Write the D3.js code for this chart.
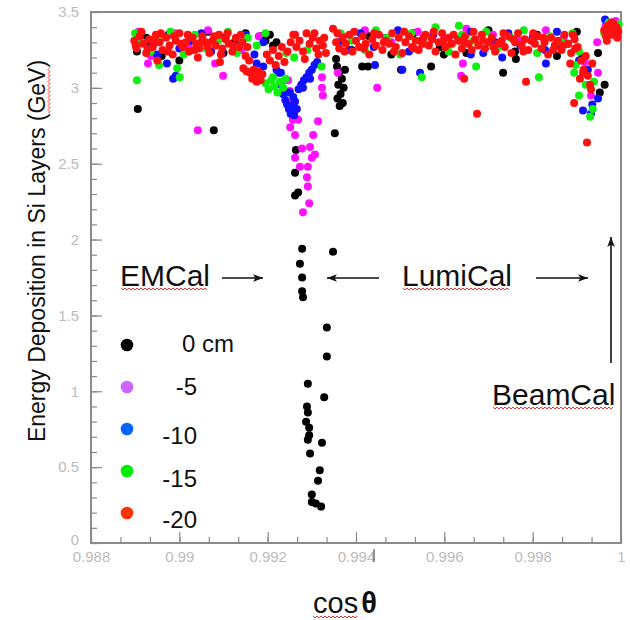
<!DOCTYPE html>
<html>
<head>
<meta charset="utf-8">
<script src="https://cdn.jsdelivr.net/npm/d3@7"></script>
<style>
  body { margin: 0; background: #fff; }
  svg { display: block; font-family: Arial, "Liberation Sans", sans-serif; }
</style>
</head>
<body>
<svg id="chart"></svg>
<script>
// ---- data (cos theta, energy in GeV) ----
const seriesNames = ['0 cm', '-5', '-10', '-15', '-20'];

const xTicks = [0.988, 0.99, 0.992, 0.994, 0.996, 0.998, 1];
const xTickLabels = ['0.988', '0.99', '0.992', '0.994', '0.996', '0.998', '1'];
const yTicks = [0, 0.5, 1, 1.5, 2, 2.5, 3, 3.5];
const yTickLabels = ['0', '0.5', '1', '1.5', '2', '2.5', '3', '3.5'];

const annotations = ['EMCal', 'LumiCal', 'BeamCal'];

const cm0 = [
  [0.98904,3.24],[0.98925,3.33],[0.98960,3.21],[0.99000,3.18],[0.99040,3.28],[0.99065,3.37],
  [0.99100,3.23],[0.99125,3.30],[0.99150,3.36],[0.98906,2.86],[0.99078,2.72],
  [0.99185,3.34],[0.99195,3.31],[0.99205,3.35],[0.99212,3.28],[0.99220,3.30],
  [0.99264,2.59],[0.99262,2.44],[0.99262,2.29],[0.99269,2.31],
  [0.99278,1.94],[0.99348,1.92],[0.99273,1.84],[0.99278,1.75],[0.99278,1.66],[0.99280,1.62],
  [0.99334,1.42],[0.99334,1.23],[0.99291,1.05],[0.99328,0.96],[0.99289,0.90],[0.99291,0.86],
  [0.99287,0.80],[0.99294,0.76],[0.99294,0.71],[0.99291,0.68],[0.99323,0.66],[0.99296,0.59],
  [0.99318,0.48],[0.99314,0.41],[0.99300,0.32],[0.99300,0.27],[0.99309,0.26],[0.99321,0.24],
  [0.99357,3.14],[0.99362,3.10],[0.99368,3.06],[0.99360,3.02],[0.99372,3.00],[0.99365,2.96],
  [0.99358,2.93],[0.99370,2.90],[0.99363,2.88],[0.99375,3.12],[0.99355,3.19],[0.99352,2.70],
  [0.99390,3.25],[0.99430,3.34],[0.99480,3.22],[0.99530,3.36],[0.99590,3.27],[0.99650,3.23],
  [0.99700,3.38],[0.99760,3.24],[0.99810,3.35],[0.99860,3.28],[0.99900,3.37],
  [0.99414,3.14],[0.99427,3.14],[0.99502,3.12],[0.99570,3.14],[0.99599,3.22],[0.99733,3.10],
  [0.99762,3.19],[0.99855,3.21],[0.99912,3.20],[0.99952,2.97],[0.99963,3.02],[0.99948,3.23],
  [0.99982,3.43],[0.99970,3.37]
];

const cm5 = [
  [0.98908,3.37],[0.98945,3.30],[0.98990,3.36],[0.99020,3.28],[0.99065,3.38],[0.99105,3.33],
  [0.99140,3.25],[0.99180,3.34],
  [0.98929,3.16],[0.99042,2.72],[0.99099,3.08],[0.99081,3.16],[0.98936,3.21],
  [0.99257,2.79],[0.99269,2.79],[0.99251,2.74],[0.99262,2.69],[0.99314,2.78],[0.99303,2.69],
  [0.99296,2.61],[0.99278,2.60],[0.99262,2.54],[0.99300,2.54],[0.99307,2.56],[0.99273,2.48],
  [0.99291,2.48],[0.99289,2.41],[0.99291,2.35],[0.99294,2.24],[0.99280,2.18],
  [0.99246,3.05],[0.99250,2.98],[0.99255,2.90],
  [0.99323,3.07],[0.99323,3.00],[0.99325,2.95],[0.99448,3.00],[0.99359,3.10],
  [0.99370,3.34],[0.99420,3.38],[0.99480,3.30],[0.99540,3.37],[0.99600,3.32],[0.99650,3.39],
  [0.99710,3.35],[0.99770,3.31],[0.99830,3.38],[0.99870,3.33],
  [0.99638,3.08],[0.99642,3.16],[0.99932,2.95],[0.99948,3.10],[0.99918,3.17],[0.99946,3.30],
  [0.99965,3.41],[0.99988,3.44]
];

const cm10 = [
  [0.98905,3.34],[0.98928,3.28],[0.98950,3.22],[0.98975,3.35],[0.99000,3.26],[0.99025,3.31],
  [0.99050,3.36],[0.99072,3.24],[0.99098,3.33],[0.99125,3.27],[0.99150,3.35],[0.99170,3.22],
  [0.99190,3.30],
  [0.98986,3.06],[0.98992,3.08],[0.98972,3.16],[0.99097,3.23],
  [0.99175,3.16],[0.99190,3.14],[0.99220,3.12],[0.99230,3.10],
  [0.99225,3.10],[0.99230,3.02],[0.99235,2.96],[0.99240,2.92],[0.99244,2.89],[0.99248,2.86],
  [0.99252,2.83],[0.99256,2.88],[0.99260,2.82],[0.99262,2.91],[0.99258,2.94],[0.99266,2.86],
  [0.99250,2.97],
  [0.99270,2.99],[0.99276,3.02],[0.99282,3.05],[0.99288,3.07],[0.99294,3.10],[0.99300,3.12],
  [0.99306,3.15],[0.99312,3.17],[0.99280,3.00],[0.99296,3.06],
  [0.99360,3.30],[0.99385,3.25],[0.99410,3.36],[0.99440,3.27],[0.99468,3.33],[0.99495,3.38],
  [0.99520,3.24],[0.99548,3.31],[0.99575,3.35],[0.99605,3.27],[0.99632,3.32],[0.99660,3.37],
  [0.99688,3.23],[0.99715,3.30],[0.99745,3.36],[0.99772,3.28],[0.99800,3.33],[0.99828,3.25],
  [0.99855,3.37],[0.99880,3.29],
  [0.99443,3.15],[0.99505,3.12],[0.99545,3.10],[0.99731,3.20],[0.99830,3.16],[0.99660,3.22],
  [0.99914,2.85],[0.99932,2.83],[0.99948,2.93],[0.99925,3.12],[0.99935,2.89],[0.99905,3.18],
  [0.99964,3.45],[0.99975,3.40],[0.99990,3.36]
];

const cm15 = [
  [0.98900,3.36],[0.98915,3.30],[0.98935,3.24],[0.98958,3.33],[0.98980,3.37],[0.99010,3.22],
  [0.99035,3.35],[0.99060,3.26],[0.99088,3.31],[0.99110,3.37],[0.99130,3.23],[0.99155,3.33],
  [0.99175,3.28],[0.99195,3.36],
  [0.98904,3.05],[0.99001,3.07],[0.98954,3.15],[0.98995,3.13],
  [0.99195,3.03],[0.99202,2.99],[0.99208,3.05],[0.99215,3.01],[0.99222,2.97],[0.99228,3.04],
  [0.99235,3.00],[0.99212,3.07],[0.99240,3.06],
  [0.99242,3.23],[0.99260,3.20],[0.99290,3.25],[0.99322,3.14],
  [0.99365,3.36],[0.99390,3.31],[0.99420,3.25],[0.99445,3.38],[0.99470,3.33],[0.99500,3.22],
  [0.99525,3.36],[0.99555,3.29],[0.99580,3.40],[0.99610,3.24],[0.99640,3.35],[0.99665,3.31],
  [0.99695,3.37],[0.99720,3.26],[0.99750,3.33],[0.99780,3.38],[0.99810,3.23],[0.99840,3.34],
  [0.99865,3.30],[0.99890,3.36],[0.99905,3.24],
  [0.99633,3.41],[0.99549,3.07],[0.99814,3.07],[0.99672,3.14],
  [0.99905,2.95],[0.99930,2.81],[0.99939,3.04],[0.99894,3.10],[0.99897,3.15],[0.99936,2.86],
  [0.99920,3.02],
  [0.99962,3.36],[0.99972,3.43],[0.99985,3.39],[0.99995,3.42]
];

const cm20 = [
  [0.98898,3.31],[0.98903,3.26],[0.98910,3.34],[0.98918,3.29],[0.98925,3.23],[0.98932,3.32],
  [0.98940,3.27],[0.98947,3.35],[0.98955,3.30],[0.98962,3.25],[0.98970,3.33],[0.98978,3.28],
  [0.98985,3.22],[0.98992,3.31],[0.99000,3.36],[0.99008,3.27],[0.99015,3.30],[0.99022,3.24],
  [0.99030,3.33],[0.99038,3.29],[0.99045,3.26],[0.99052,3.34],[0.99060,3.30],[0.99068,3.23],
  [0.99075,3.31],[0.99082,3.28],[0.99090,3.35],[0.99097,3.26],[0.99105,3.32],[0.99112,3.29],
  [0.99120,3.24],[0.99128,3.33],[0.99135,3.27],[0.99143,3.30],[0.99150,3.21],[0.99158,3.18],
  [0.98901,3.28],[0.98914,3.37],[0.98928,3.26],[0.98944,3.31],[0.98958,3.36],[0.98974,3.24],
  [0.98988,3.34],[0.99004,3.29],[0.99019,3.35],[0.99034,3.25],[0.99049,3.30],[0.99064,3.27],
  [0.99079,3.34],[0.99094,3.22],[0.99109,3.36],[0.99124,3.28],[0.99139,3.35],[0.99154,3.27],
  [0.99160,3.10],[0.99165,3.06],[0.99170,3.08],[0.99175,3.04],[0.99180,3.07],[0.99184,3.05],
  [0.99188,3.09],[0.99178,3.11],[0.99168,3.12],
  [0.99145,3.13],[0.99152,3.11],[0.99092,3.17],[0.99042,3.20],[0.98950,3.18],
  [0.99198,3.22],[0.99205,3.18],[0.99212,3.25],[0.99218,3.15],[0.99225,3.21],[0.99232,3.27],
  [0.99238,3.17],[0.99245,3.24],[0.99252,3.30],[0.99258,3.35],[0.99265,3.27],[0.99272,3.31],
  [0.99280,3.24],[0.99288,3.36],[0.99295,3.29],[0.99302,3.33],[0.99310,3.26],[0.99318,3.31],
  [0.99325,3.28],[0.99332,3.23],[0.99348,3.39],
  [0.99284,3.19],[0.99306,3.36],[0.99328,3.33],[0.99315,3.22],
  [0.99355,3.30],[0.99362,3.26],[0.99370,3.33],[0.99377,3.29],[0.99385,3.35],[0.99392,3.24],
  [0.99400,3.31],[0.99407,3.27],[0.99415,3.34],[0.99422,3.29],[0.99430,3.22],[0.99437,3.32],
  [0.99445,3.28],[0.99452,3.35],[0.99460,3.25],[0.99467,3.31],[0.99475,3.29],[0.99482,3.36],
  [0.99490,3.27],[0.99497,3.33],[0.99505,3.23],[0.99512,3.30],[0.99520,3.34],[0.99527,3.27],
  [0.99535,3.31],[0.99542,3.25],[0.99550,3.29],[0.99557,3.35],[0.99565,3.28],[0.99572,3.32],
  [0.99580,3.24],[0.99587,3.30],[0.99595,3.36],[0.99602,3.27],[0.99610,3.33],[0.99617,3.29],
  [0.99625,3.22],[0.99632,3.31],[0.99640,3.26],[0.99647,3.34],[0.99655,3.29],[0.99662,3.25],
  [0.99670,3.32],[0.99677,3.28],[0.99685,3.35],[0.99692,3.26],[0.99700,3.30],[0.99707,3.33],
  [0.99715,3.24],[0.99722,3.29],[0.99730,3.31],[0.99737,3.27],[0.99745,3.34],[0.99752,3.23],
  [0.99760,3.30],[0.99767,3.36],[0.99775,3.28],[0.99782,3.32],[0.99790,3.25],[0.99797,3.31],
  [0.99805,3.29],[0.99812,3.34],[0.99820,3.26],[0.99827,3.30],[0.99835,3.22],[0.99842,3.33],
  [0.99850,3.28],[0.99857,3.31],[0.99865,3.25],[0.99872,3.35],[0.99880,3.29],[0.99887,3.23],
  [0.99895,3.32],[0.99902,3.27],[0.99910,3.18],[0.99915,3.12],[0.99920,3.21],[0.99925,3.08],
  [0.99930,3.02],[0.99935,3.16],
  [0.99358,3.36],[0.99374,3.24],[0.99396,3.37],[0.99418,3.26],[0.99441,3.36],[0.99463,3.30],
  [0.99486,3.24],[0.99509,3.37],[0.99531,3.26],[0.99553,3.33],[0.99576,3.37],[0.99598,3.31],
  [0.99621,3.35],[0.99644,3.30],[0.99666,3.37],[0.99688,3.31],[0.99711,3.27],[0.99734,3.36],
  [0.99756,3.32],[0.99779,3.24],[0.99801,3.36],[0.99824,3.33],[0.99846,3.25],[0.99869,3.28],
  [0.99891,3.35],[0.99896,3.26],
  [0.99894,2.90],[0.99923,2.64],[0.99932,2.99],[0.99914,3.10],[0.99907,3.06],[0.99885,3.16],
  [0.99674,2.83],[0.99785,3.04],[0.99645,3.06],[0.99262,3.35],
  [0.99962,3.38],[0.99966,3.34],[0.99970,3.41],[0.99974,3.36],[0.99978,3.43],[0.99982,3.38],
  [0.99986,3.35],[0.99990,3.40],[0.99994,3.37],[0.99968,3.31],[0.99976,3.39],[0.99984,3.42],
  [0.99992,3.33],[0.99980,3.35]
];

const series = [cm0, cm5, cm10, cm15, cm20];
const pointColors  = ['#000000', '#ff10ff', '#1010ff', '#10f010', '#ff1010'];
const legendColors = ['#000000', '#cc66ff', '#0066ff', '#00ee00', '#ff3300'];

// ---- layout ----
const W = 630, H = 620;
const frame = { left: 91, right: 621, top: 12, bottom: 543 };

const svg = d3.select('#chart').attr('width', W).attr('height', H);

const x = d3.scaleLinear().domain([0.988, 1]).range([frame.left, frame.right]);
const y = d3.scaleLinear().domain([0, 3.5]).range([frame.bottom, frame.top]);

function styleAxis(ax) {
  ax.select('.domain').remove();
  ax.selectAll('.tick line').attr('stroke', '#8a8a8a').attr('stroke-width', 1.2);
  ax.selectAll('.tick text').attr('fill', '#bcbcbc').style('font-size', '15px')
    .style('font-family', 'Arial, "Liberation Sans", sans-serif');
}

// minor ticks
svg.append('g')
  .attr('transform', `translate(0,${frame.bottom})`)
  .call(d3.axisBottom(x).tickValues(d3.range(0, 19).map(i => 0.988 + i * 0.002 / 3)).tickSize(-6).tickFormat(''))
  .call(styleAxis);
svg.append('g')
  .attr('transform', `translate(${frame.left},0)`)
  .call(d3.axisLeft(y).tickValues(d3.range(0, 36).map(i => i / 10)).tickSize(-6).tickFormat(''))
  .call(styleAxis);

// major ticks + labels
svg.append('g')
  .attr('transform', `translate(0,${frame.bottom})`)
  .call(d3.axisBottom(x).tickValues(xTicks).tickFormat((d, i) => xTickLabels[i]).tickSize(-11).tickPadding(8))
  .call(styleAxis);
svg.append('g')
  .attr('transform', `translate(${frame.left},0)`)
  .call(d3.axisLeft(y).tickValues(yTicks).tickFormat((d, i) => yTickLabels[i]).tickSize(-11).tickPadding(12))
  .call(styleAxis)
  .call(ax => ax.selectAll('.tick text').attr('dy', (d, i) => i === 0 ? '0.1em' : '0.32em'));

svg.append('rect')
  .attr('x', frame.left).attr('y', frame.top)
  .attr('width', frame.right - frame.left).attr('height', frame.bottom - frame.top)
  .attr('fill', 'none').attr('stroke', '#8a8a8a').attr('stroke-width', 2);

// stray cursor mark under the 0.994 label
svg.append('line').attr('x1', 374).attr('x2', 374).attr('y1', 549).attr('y2', 562)
  .attr('stroke', '#555').attr('stroke-width', 1.2);

// ---- points ----
series.forEach((data, s) => {
  svg.append('g').selectAll('circle')
    .data(data)
    .join('circle')
      .attr('cx', d => x(d[0]))
      .attr('cy', d => y(d[1]))
      .attr('r', 4)
      .attr('fill', pointColors[s]);
});

// red spell-check squiggle
function squiggle(g, x0, x1, yb) {
  const pts = [];
  for (let xx = x0, k = 0; xx <= x1; xx += 2, k++) pts.push([xx, yb + (k % 2 ? 2 : 0)]);
  g.append('path').attr('d', d3.line()(pts))
    .attr('fill', 'none').attr('stroke', '#ff3030').attr('stroke-width', 1);
}

// ---- legend ----
const legendDy = [7, 8, 15, 16, 15];
seriesNames.forEach((name, i) => {
  const cy = 345 + i * 42;
  svg.append('circle').attr('cx', 127).attr('cy', cy).attr('r', 6.3).attr('fill', legendColors[i]);
  svg.append('text')
    .attr('x', i === 0 ? 182 : 197)
    .attr('y', cy + legendDy[i])
    .attr('text-anchor', i === 0 ? 'start' : 'end')
    .style('font-size', '24px')
    .attr('fill', '#111')
    .text(name);
});

// ---- annotations ----
const annPos = [[120, 286], [402, 286], [492, 405]];
annotations.forEach((label, i) => {
  const t = svg.append('text')
    .attr('x', annPos[i][0]).attr('y', annPos[i][1])
    .style('font-size', '30px').attr('fill', '#111')
    .text(label);
  const len = t.node().getComputedTextLength();
  squiggle(svg, annPos[i][0] + 1, annPos[i][0] + len - 2, annPos[i][1] + 2);
});

// arrows
svg.append('defs').append('marker')
  .attr('id', 'head').attr('viewBox', '0 0 10 10')
  .attr('refX', 10).attr('refY', 5)
  .attr('markerWidth', 10).attr('markerHeight', 10).attr('markerUnits', 'userSpaceOnUse')
  .attr('orient', 'auto')
  .append('path').attr('d', 'M0,1.2 L10,5 L0,8.8 L2.5,5 Z').attr('fill', '#111');

[[222, 278, 263, 278], [379, 278, 327, 278], [536, 278, 588, 278], [611, 363, 611, 237]]
  .forEach(a => {
    svg.append('line')
      .attr('x1', a[0]).attr('y1', a[1]).attr('x2', a[2]).attr('y2', a[3])
      .attr('stroke', '#111').attr('stroke-width', 1.6)
      .attr('marker-end', 'url(#head)');
  });

// ---- axis titles ----
const yTitle = 'Energy Deposition in Si Layers (GeV)';
const yg = svg.append('g').attr('transform', 'translate(45,251) rotate(-90)');
const yt = yg.append('text')
  .attr('text-anchor', 'middle')
  .style('font-size', '23px').attr('fill', '#111')
  .text(yTitle);
{
  const node = yt.node();
  const total = node.getComputedTextLength();
  const start = node.getSubStringLength(0, yTitle.length - 4);
  const gev = node.getSubStringLength(yTitle.length - 4, 3);
  squiggle(yg, -total / 2 + start, -total / 2 + start + gev, 3);
}

const xt = svg.append('text').attr('x', 313).attr('y', 613)
  .style('font-size', '29px').attr('fill', '#111');
xt.append('tspan').text('cos');
xt.append('tspan').attr('dx', 3).style('font-weight', 'bold').text('θ');
squiggle(svg, 313, 358, 616);
</script>
</body>
</html>
